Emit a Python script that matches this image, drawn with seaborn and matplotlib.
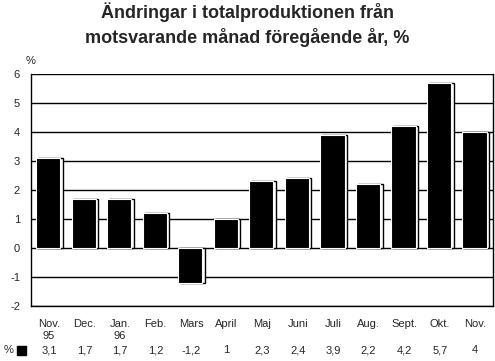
import matplotlib
matplotlib.use("Agg")
import matplotlib.pyplot as plt
import seaborn as sns
import pandas as pd

# data
months = ["Nov.\n95", "Dec.", "Jan.\n96", "Feb.", "Mars", "April", "Maj",
          "Juni", "Juli", "Aug.", "Sept.", "Okt.", "Nov."]
values = [3.1, 1.7, 1.7, 1.2, -1.2, 1.0, 2.3, 2.4, 3.9, 2.2, 4.2, 5.7, 4.0]
value_labels = ["3,1", "1,7", "1,7", "1,2", "-1,2", "1", "2,3", "2,4",
                "3,9", "2,2", "4,2", "5,7", "4"]
yticks = [-2, -1, 0, 1, 2, 3, 4, 5, 6]

df = pd.DataFrame({"month": months, "value": values})

sns.set_style("white")
plt.rcParams['font.family'] = ['Liberation Sans', 'DejaVu Sans']

fig = plt.figure(figsize=(4.95, 3.61), dpi=100)
ax = fig.add_axes([0.063, 0.152, 0.933, 0.643])

# shadow outline, then the black bars
sns.barplot(data=df, x="month", y="value", color="white", edgecolor="black",
            linewidth=1.0, width=0.7, saturation=1, ax=ax, zorder=2)
for p in ax.patches:
    p.set_x(p.get_x() + 0.04)
n = len(ax.patches)
sns.barplot(data=df, x="month", y="value", color="black", edgecolor="white",
            linewidth=0.8, width=0.68, saturation=1, ax=ax, zorder=3)
for p in ax.patches[n:]:
    p.set_x(p.get_x() - 0.02)

ax.set_ylim(-2, 6)
ax.set_xlim(-0.5, len(months) - 0.5)
ax.set_yticks(yticks)
ax.set_yticklabels([str(t) for t in yticks], fontsize=8)
for t in yticks:
    ax.axhline(t, color="black", linewidth=1.0, zorder=1)

ax.set_xticks(range(len(months)))
ax.set_xticklabels(months, fontsize=8, linespacing=1.3)
ax.tick_params(axis="x", direction="out", length=6, width=1, color="black", pad=3)
ax.tick_params(axis="y", direction="out", length=5, width=1, color="black", pad=3)
ax.set_xlabel("")
ax.set_ylabel("")
for s in ["left", "bottom", "right"]:
    ax.spines[s].set_visible(True)
    ax.spines[s].set_color("black")
    ax.spines[s].set_linewidth(1.0)
ax.spines["top"].set_visible(False)

ax.text(-0.012, 1.035, "%", transform=ax.transAxes, fontsize=8, ha="left", va="bottom")

# value row under the axis
for i, lab in enumerate(value_labels):
    ax.text(i, -0.19, lab, transform=ax.get_xaxis_transform(), fontsize=8,
            ha="center", va="center")
fig.text(0.008, 0.03, "%", fontsize=8, ha="left", va="center")
fig.patches.append(plt.Rectangle((0.035, 0.018), 0.018, 0.024, transform=fig.transFigure,
                                 facecolor="black", edgecolor="black", linewidth=1))

fig.suptitle("Ändringar i totalproduktionen från\nmotsvarande månad föregående år, %",
             fontsize=13, fontweight="bold", y=0.995, linespacing=1.4)

fig.savefig("out.png", dpi=100)
